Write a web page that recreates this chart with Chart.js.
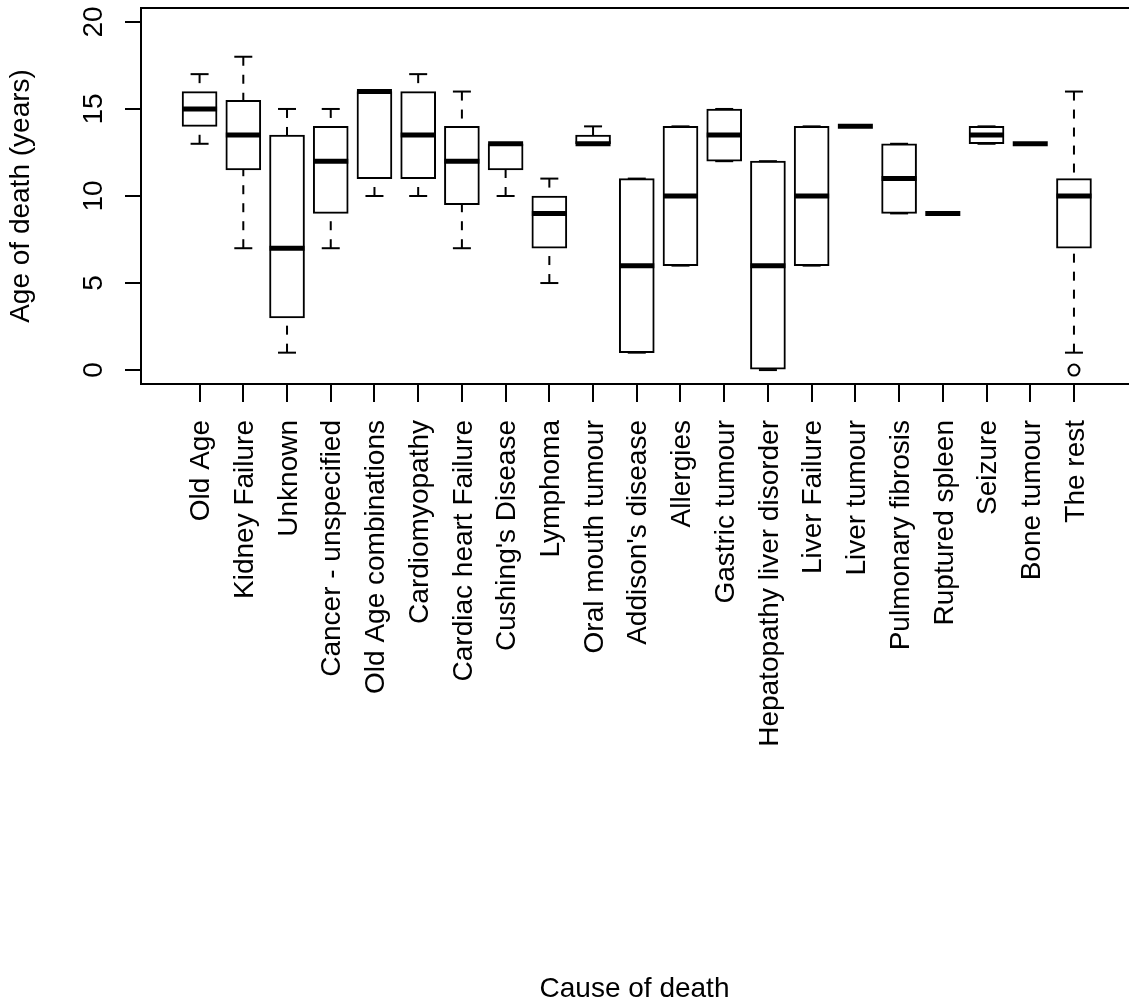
<!DOCTYPE html>
<html>
<head>
<meta charset="utf-8">
<script src="https://cdn.jsdelivr.net/npm/chart.js@4/dist/chart.umd.min.js"></script>
<style>
  body { margin: 0; background: #fff; }
  canvas { display: block; }
</style>
</head>
<body>
<canvas id="boxChart" width="1129" height="1005"></canvas>
<script>
const causes = [
    "Old Age", "Kidney Failure", "Unknown", "Cancer - unspecified", "Old Age combinations",
    "Cardiomyopathy", "Cardiac heart Failure", "Cushing's Disease", "Lymphoma", "Oral mouth tumour",
    "Addison's disease", "Allergies", "Gastric tumour", "Hepatopathy liver disorder", "Liver Failure",
    "Liver tumour", "Pulmonary fibrosis", "Ruptured spleen", "Seizure", "Bone tumour", "The rest"
];
const lowerWhisker = [13, 7, 1, 7, 10, 10, 7, 10, 5, 13, 1, 6, 12, 0, 6, 14, 9, 9, 13, 13, 1];
const lowerHinge   = [14, 11.5, 3, 9, 11, 11, 9.5, 11.5, 7, 13, 1, 6, 12, 0, 6, 14, 9, 9, 13, 13, 7];
const medians      = [15, 13.5, 7, 12, 16, 13.5, 12, 13, 9, 13, 6, 10, 13.5, 6, 10, 14, 11, 9, 13.5, 13, 10];
const upperHinge   = [16, 15.5, 13.5, 14, 16, 16, 14, 13, 10, 13.5, 11, 14, 15, 12, 14, 14, 13, 9, 14, 13, 11];
const upperWhisker = [17, 18, 15, 15, 16, 17, 16, 13, 11, 14, 11, 14, 15, 12, 14, 14, 13, 9, 14, 13, 16];
const outlierCause = ["The rest"];
const outlierAge   = [0];
const yTicks = [0, 5, 10, 15, 20];

const FONT = "'Liberation Sans', Arial, Helvetica, sans-serif";
const positions = causes.map((c, i) => i + 1);

// dashed whiskers, top frame line and the rotated y labels
const boxExtras = {
    id: 'boxExtras',
    beforeDatasetsDraw(chart) {
        const { ctx, scales: { x, y } } = chart;
        ctx.save();
        ctx.strokeStyle = '#000';
        ctx.lineWidth = 2;
        ctx.setLineDash([9, 9]);
        positions.forEach((p, i) => {
            const px = x.getPixelForValue(p);
            const pairs = [[upperWhisker[i], upperHinge[i]], [lowerWhisker[i], lowerHinge[i]]];
            pairs.forEach(([end, hinge]) => {
                if (end === hinge) return;
                ctx.beginPath();
                ctx.moveTo(px, y.getPixelForValue(end));
                ctx.lineTo(px, y.getPixelForValue(hinge));
                ctx.stroke();
            });
        });
        ctx.restore();
    },
    afterDraw(chart) {
        const { ctx, chartArea, scales: { y } } = chart;
        ctx.save();
        ctx.strokeStyle = '#000';
        ctx.lineWidth = 2;
        ctx.beginPath();
        ctx.moveTo(chartArea.left, chartArea.top);
        ctx.lineTo(chartArea.right + 2, chartArea.top);
        ctx.stroke();

        ctx.fillStyle = '#000';
        ctx.font = '28px ' + FONT;
        ctx.textAlign = 'center';
        ctx.textBaseline = 'alphabetic';
        yTicks.forEach(v => {
            ctx.save();
            ctx.translate(102, y.getPixelForValue(v));
            ctx.rotate(-Math.PI / 2);
            ctx.fillText(String(v), 0, 0);
            ctx.restore();
        });
        ctx.restore();
    }
};

new Chart(document.getElementById('boxChart'), {
    data: {
        datasets: [
            {
                type: 'scatter',
                data: positions.map((p, i) => ({ x: p, y: medians[i] })),
                pointStyle: 'line',
                pointRadius: 17.5,
                pointBorderWidth: 5,
                pointBorderColor: '#000',
                order: 1
            },
            {
                type: 'scatter',
                data: outlierCause.map((c, i) => ({ x: causes.indexOf(c) + 1, y: outlierAge[i] })),
                pointStyle: 'circle',
                pointRadius: 5.5,
                pointBorderWidth: 2,
                pointBorderColor: '#000',
                pointBackgroundColor: '#fff',
                order: 1
            },
            {
                type: 'scatter',
                data: positions.map((p, i) => ({ x: p, y: upperWhisker[i] }))
                    .concat(positions.map((p, i) => ({ x: p, y: lowerWhisker[i] }))),
                pointStyle: 'line',
                pointRadius: 9,
                pointBorderWidth: 2,
                pointBorderColor: '#000',
                order: 2
            },
            {
                type: 'bar',
                data: positions.map((p, i) => ({ x: p, y: [lowerHinge[i], upperHinge[i]] })),
                backgroundColor: '#fff',
                borderColor: '#000',
                borderWidth: 2,
                borderSkipped: false,
                barThickness: 35,
                order: 3
            }
        ]
    },
    options: {
        responsive: false,
        devicePixelRatio: 1,
        animation: false,
        events: [],
        layout: { autoPadding: false, padding: { left: 0, right: 1, top: 8, bottom: 0 } },
        plugins: { legend: { display: false }, tooltip: { enabled: false } },
        scales: {
            x: {
                type: 'linear',
                min: -0.34,
                max: 22.236,
                offset: false,
                afterBuildTicks: axis => { axis.ticks = positions.map(v => ({ value: v })); },
                afterFit: axis => { axis.height = 621; axis.paddingLeft = 0; axis.paddingRight = 0; },
                ticks: {
                    autoSkip: false,
                    minRotation: 90,
                    maxRotation: 90,
                    padding: 18,
                    labelOffset: 2,
                    color: '#000',
                    font: { family: FONT, size: 28 },
                    callback: value => causes[value - 1]
                },
                grid: { offset: false, drawOnChartArea: false, drawTicks: true, tickLength: 18, color: '#000', lineWidth: 2 },
                border: { display: true, color: '#000', width: 2 },
                title: {
                    display: true,
                    text: 'Cause of death',
                    color: '#000',
                    font: { family: FONT, size: 28, lineHeight: 1.1 },
                    padding: { top: 0, bottom: 0 }
                }
            },
            y: {
                type: 'linear',
                min: -0.8,
                max: 20.8,
                afterBuildTicks: axis => { axis.ticks = yTicks.map(v => ({ value: v })); },
                afterFit: axis => { axis.width = 141; axis.paddingTop = 0; axis.paddingBottom = 0; },
                ticks: { display: false },
                grid: { drawOnChartArea: false, drawTicks: true, tickLength: 16, color: '#000', lineWidth: 2 },
                border: { display: true, color: '#000', width: 2 },
                title: {
                    display: true,
                    text: 'Age of death (years)',
                    color: '#000',
                    font: { family: FONT, size: 28, lineHeight: 1.2 },
                    padding: { top: 4, bottom: 0 }
                }
            }
        }
    },
    plugins: [boxExtras]
});
</script>
</body>
</html>
